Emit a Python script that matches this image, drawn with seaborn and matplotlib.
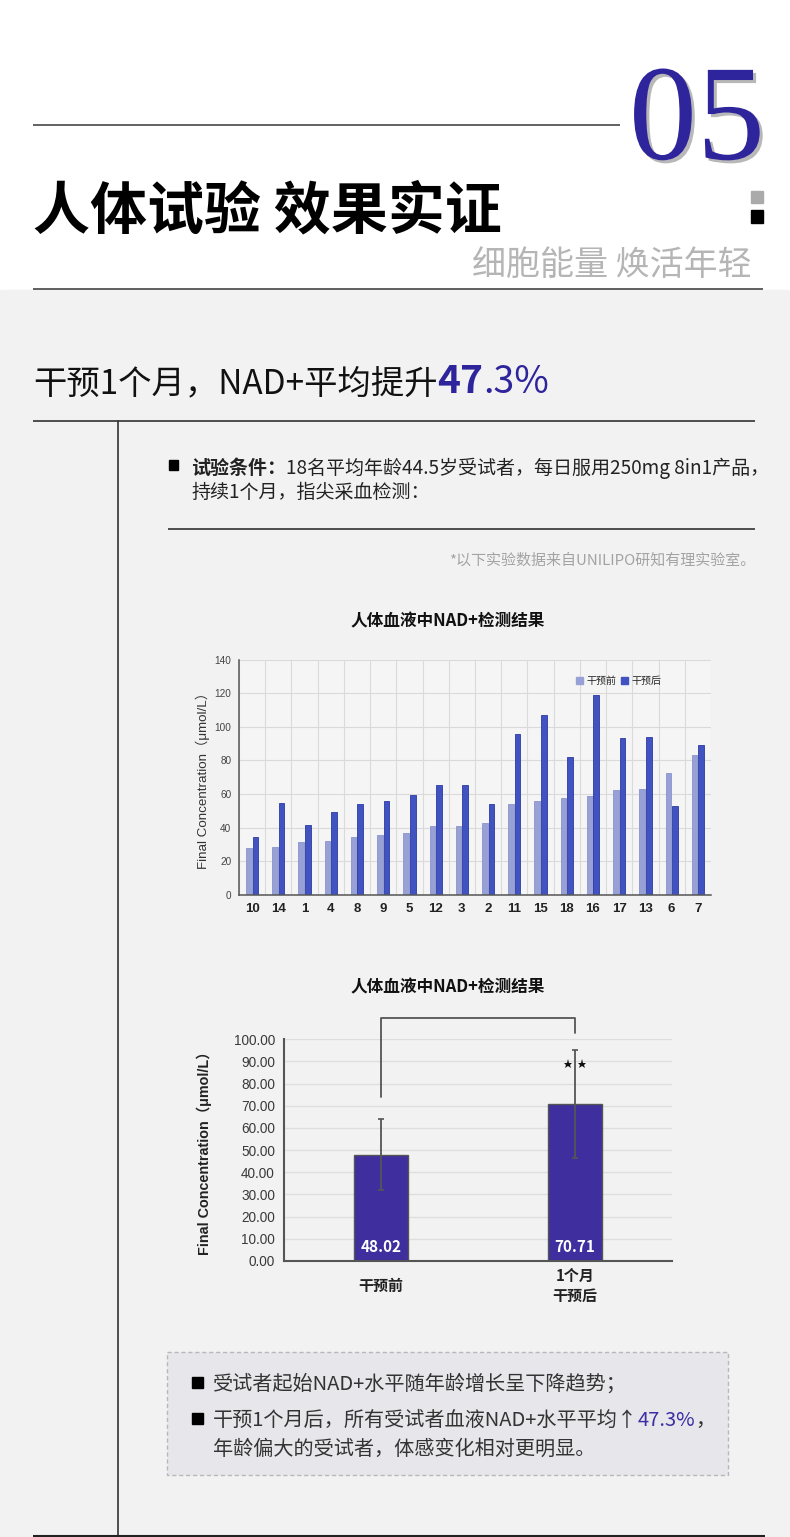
import matplotlib
matplotlib.use("Agg")
import matplotlib.pyplot as plt
import matplotlib.patheffects as pe
from matplotlib.patches import Rectangle, Patch
import numpy as np
import pandas as pd
import seaborn as sns

W, H = 790, 1537

# chart 1: per-subject NAD+ before / after
subjects = ["10", "14", "1", "4", "8", "9", "5", "12", "3", "2",
            "11", "15", "18", "16", "17", "13", "6", "7"]
before = [28.2, 28.6, 31.4, 32.2, 34.2, 35.6, 37.0, 40.8, 41.2, 42.7,
          54.3, 55.9, 57.9, 58.6, 62.4, 62.8, 72.6, 83.1]
after = [34.2, 54.7, 41.5, 49.5, 54.3, 55.9, 59.4, 65.2, 65.2, 53.9,
         95.8, 107.2, 82.3, 118.9, 93.2, 94.0, 53.1, 89.3]
phases = ["干预前", "干预后"]
y1_ticks = [0, 20, 40, 60, 80, 100, 120, 140]

# chart 2: group means
groups = ["干预前", "1个月\n干预后"]
group_means = [48.02, 70.71]
group_sd = [16.2, 24.3]
y2_ticks = [0, 10, 20, 30, 40, 50, 60, 70, 80, 90, 100]

BLUE = "#2e249c"
CJK = ["Noto Sans CJK SC", "DejaVu Sans"]
LAT = ["Liberation Sans", "DejaVu Sans"]

sns.set_theme(style="white")
plt.rcParams["font.family"] = CJK
plt.rcParams["axes.unicode_minus"] = False

fig = plt.figure(figsize=(W / 100, H / 100), dpi=100)


def px_rect(x0, y0, x1, y1):
    return [x0 / W, 1 - y1 / H, (x1 - x0) / W, (y1 - y0) / H]


bg = fig.add_axes([0, 0, 1, 1])
bg.set_xlim(0, W)
bg.set_ylim(H, 0)
bg.axis("off")
bg.add_patch(Rectangle((0, 0), W, 290, color="white", zorder=0))
bg.add_patch(Rectangle((0, 290), W, H - 290, color="#f2f2f2", zorder=0))


def hline(x0, x1, y, color="#444", lw=1.2):
    bg.plot([x0, x1], [y, y], color=color, lw=lw, solid_capstyle="butt")


def put_runs(x, y, runs):
    r = fig.canvas.get_renderer()
    for s, kw in runs:
        t = bg.text(x, y, s, ha="left", va="baseline", **kw)
        x += t.get_window_extent(renderer=r).width
    return x


# header
hline(33, 620, 125, "#555", 1.3)
bg.text(765, 159, "05", ha="right", va="baseline", family="Liberation Serif",
        fontsize=98, color=BLUE,
        path_effects=[pe.SimplePatchShadow(offset=(2.2, -2.2), shadow_rgbFace="#b8b8b8", alpha=1),
                      pe.Normal()])
bg.add_patch(Rectangle((751, 191), 12, 12, color="#aaaaaa"))
bg.add_patch(Rectangle((751, 210), 12, 13, color="black"))
bg.text(33, 228, "人体试验 效果实证", ha="left", va="baseline", fontsize=41,
        weight="bold", color="black")
bg.text(752, 275, "细胞能量 焕活年轻", ha="right", va="baseline", fontsize=24.5,
        color="#b5b5b5")
hline(33, 763, 289, "#444", 1.2)

# headline
put_runs(33, 393, [("干预1个月，NAD+平均提升", dict(fontsize=24, color="#111")),
                   ("47", dict(fontsize=28, weight="bold", color=BLUE)),
                   (".3%", dict(fontsize=27, color=BLUE))])
hline(33, 755, 421, "#333", 1.2)
bg.plot([118, 118], [421, H], color="#333", lw=1.2)

# conditions
bg.add_patch(Rectangle((169, 460), 9, 10, color="black"))
put_runs(191, 474, [("试验条件：", dict(fontsize=13.7, weight="bold", color="#222")),
                    ("18名平均年龄44.5岁受试者，每日服用250mg 8in1产品，",
                     dict(fontsize=13.7, color="#222"))])
put_runs(191, 498, [("持续1个月，指尖采血检测：", dict(fontsize=13.7, color="#222"))])
hline(168, 755, 529, "#333", 1.2)
bg.text(755, 560, "*以下实验数据来自UNILIPO研知有理实验室。", ha="right", va="center",
        fontsize=10.8, color="#a3a3a3")

# chart titles
bg.text(448, 621, "人体血液中NAD+检测结果", ha="center", va="center", fontsize=12,
        weight="bold", color="#111")
bg.text(448, 987, "人体血液中NAD+检测结果", ha="center", va="center", fontsize=12,
        weight="bold", color="#111")

# ---- chart 1
df1 = pd.DataFrame({
    "subject": subjects * 2,
    "value": before + after,
    "phase": [phases[0]] * len(subjects) + [phases[1]] * len(subjects),
})
ax1 = fig.add_axes(px_rect(239, 659.5, 711, 895))
ax1.set_facecolor("#f5f5f5")
sns.barplot(data=df1, x="subject", y="value", hue="phase", order=subjects,
            hue_order=phases, palette=["#98a1d5", "#4152c1"], saturation=1,
            width=0.5, gap=0.12, legend=False, ax=ax1)
for cont, ec in zip(ax1.containers, ["#8a93cc", "#2b3aa4"]):
    for bar in cont:
        bar.set_edgecolor(ec)
        bar.set_linewidth(0.6)
ax1.set_xlim(-0.5, len(subjects) - 0.5)
ax1.set_ylim(0, 140)
ax1.set_yticks(y1_ticks)
ax1.set_xticks(np.arange(-0.5, len(subjects), 1), minor=True)
ax1.grid(axis="y", which="major", color="#dadada", lw=0.8)
ax1.grid(axis="x", which="minor", color="#dadada", lw=0.8)
ax1.set_axisbelow(True)
for s in ["top", "right"]:
    ax1.spines[s].set_visible(False)
for s in ["left", "bottom"]:
    ax1.spines[s].set_color("#555")
    ax1.spines[s].set_linewidth(1.1)
ax1.tick_params(axis="both", which="both", length=0)
ax1.tick_params(axis="y", pad=5.5, labelsize=7.2, labelcolor="#444")
ax1.tick_params(axis="x", pad=6)
for lab in ax1.get_xticklabels():
    lab.set_fontsize(9.5)
    lab.set_weight("bold")
    lab.set_family(LAT)
    lab.set_color("#222")
for lab in ax1.get_yticklabels():
    lab.set_family(LAT)
ax1.set_xlabel("")
ax1.set_ylabel("Final Concentration（μmol/L）", fontsize=9.6, color="#333",
               family=LAT + CJK, labelpad=3)
ax1.legend(handles=[Patch(color="#98a1d5", label=phases[0]),
                    Patch(color="#4152c1", label=phases[1])],
           loc="upper right", bbox_to_anchor=(0.905, 0.95), ncol=2, frameon=False,
           fontsize=7.2, handlelength=0.7, handleheight=0.7, handletextpad=0.3,
           columnspacing=0.5, borderpad=0)

# ---- chart 2
df2 = pd.DataFrame({"group": groups, "mean": group_means})
ax2 = fig.add_axes(px_rect(284, 1039.3, 672, 1261))
ax2.set_facecolor("none")
sns.barplot(data=df2, x="group", y="mean", color="#3f2e9e", saturation=1,
            width=0.28, edgecolor="#555", linewidth=1.0, errorbar=None, ax=ax2)
ax2.errorbar(range(len(groups)), group_means, yerr=group_sd, fmt="none",
             ecolor="#555", elinewidth=1.3, capsize=2, capthick=1.2)
ax2.set_xlim(-0.5, len(groups) - 0.5)
ax2.set_ylim(0, 100)
ax2.set_yticks(y2_ticks)
ax2.set_yticklabels([f"{v:.2f}" for v in y2_ticks])
ax2.grid(axis="y", color="#dedede", lw=1.0)
ax2.set_axisbelow(True)
for s in ["top", "right"]:
    ax2.spines[s].set_visible(False)
for s in ["left", "bottom"]:
    ax2.spines[s].set_color("#555")
    ax2.spines[s].set_linewidth(1.5)
ax2.tick_params(axis="both", length=0)
ax2.tick_params(axis="y", pad=6.5, labelsize=9.8, labelcolor="#3a3a3a")
ax2.tick_params(axis="x", pad=18)
for lab in ax2.get_yticklabels():
    lab.set_family(LAT)
for lab in ax2.get_xticklabels():
    lab.set_fontsize(10.8)
    lab.set_weight("bold")
    lab.set_color("#222")
    lab.set_va("center")
    lab.set_linespacing(1.25)
ax2.set_xlabel("")
ax2.set_ylabel("Final Concentration（μmol/L）", fontsize=10.4, weight="bold",
               color="#222", family=LAT + CJK, labelpad=16)
for i, v in enumerate(group_means):
    ax2.text(i, 6.3, f"{v:.2f}", ha="center", va="center", color="white",
             fontsize=11, weight="bold")
ax2.plot([0, 0, 1, 1], [74.1, 109.6, 109.6, 102.7], color="#555", lw=1.3,
         clip_on=False)
# significance stars either side of the error bar
ax2.plot([1 - 0.034, 1 + 0.034], [88.9, 88.9], ls="none", marker="*",
         markersize=6.5, color="#111", markeredgewidth=0)

# ---- summary box
bg.add_patch(Rectangle((167, 1352), 561, 123, facecolor="#e6e6eb",
                       edgecolor="#b8b8b8", lw=1, ls=(0, (3, 2))))
bg.add_patch(Rectangle((192, 1377), 11, 11, color="black"))
bg.add_patch(Rectangle((192, 1413), 11, 11, color="black"))
put_runs(213, 1390, [("受试者起始NAD+水平随年龄增长呈下降趋势；", dict(fontsize=14.5, color="#333"))])
put_runs(213, 1426, [("干预1个月后，所有受试者血液NAD+水平平均↑", dict(fontsize=14.5, color="#333")),
                     ("47.3%", dict(fontsize=14.5, color="#3a2fa5")),
                     ("，", dict(fontsize=14.5, color="#333"))])
put_runs(213, 1455, [("年龄偏大的受试者，体感变化相对更明显。", dict(fontsize=14.5, color="#333"))])

hline(33, 765, 1536, "#222", 1.5)

fig.savefig("out.png", dpi=100)
